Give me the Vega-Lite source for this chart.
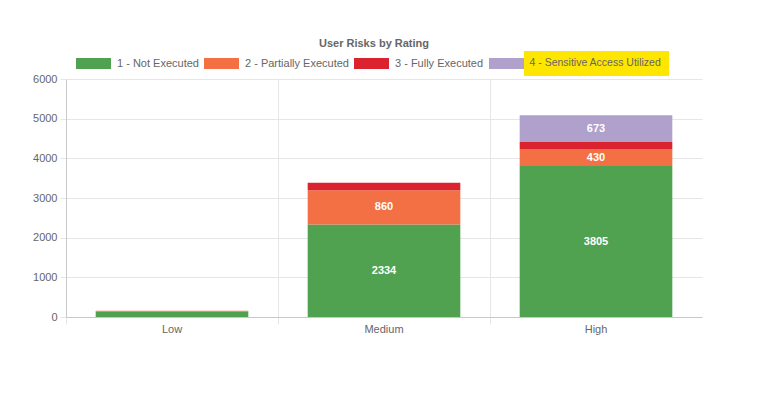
{
  "$schema": "https://vega.github.io/schema/vega-lite/v6.json",
  "autosize": {"type": "none"},
  "padding": {"left": 66, "top": 79, "right": 66, "bottom": 81},
  "width": 636,
  "height": 238,
  "background": "white",
  "title": {
    "text": "User Risks by Rating",
    "anchor": "middle",
    "font": "Liberation Sans",
    "fontSize": 11,
    "fontWeight": "bold",
    "color": "#666666",
    "dx": -10,
    "offset": -3
  },
  "data": {
    "values": [
      {"rating": "Low", "status": "1 - Not Executed", "value": 135},
      {"rating": "Low", "status": "2 - Partially Executed", "value": 25},
      {"rating": "Low", "status": "3 - Fully Executed", "value": 0},
      {"rating": "Low", "status": "4 - Sensitive Access Utilized", "value": 0},
      {"rating": "Medium", "status": "1 - Not Executed", "value": 2334},
      {"rating": "Medium", "status": "2 - Partially Executed", "value": 860},
      {"rating": "Medium", "status": "3 - Fully Executed", "value": 190},
      {"rating": "Medium", "status": "4 - Sensitive Access Utilized", "value": 0},
      {"rating": "High", "status": "1 - Not Executed", "value": 3805},
      {"rating": "High", "status": "2 - Partially Executed", "value": 430},
      {"rating": "High", "status": "3 - Fully Executed", "value": 178},
      {"rating": "High", "status": "4 - Sensitive Access Utilized", "value": 673}
    ]
  },
  "transform": [
    {"stack": "value", "groupby": ["rating"], "sort": [{"field": "status", "order": "ascending"}], "as": ["y0", "y1"]},
    {"calculate": "(datum.y0 + datum.y1) / 2", "as": "ymid"}
  ],
  "encoding": {
    "x": {
      "field": "rating",
      "type": "nominal",
      "sort": ["Low", "Medium", "High"],
      "scale": {"paddingInner": 0, "paddingOuter": 0},
      "axis": {
        "title": null,
        "labelAngle": 0,
        "labelFont": "Liberation Sans",
        "labelFontSize": 11,
        "labelColor": "#666666",
        "labelPadding": -1,
        "domainColor": "#c8c8c8",
        "grid": true,
        "gridColor": "#e6e6e6",
        "tickColor": "#e6e6e6",
        "tickSize": 7,
        "bandPosition": 0
      }
    }
  },
  "layer": [
    {
      "mark": {"type": "bar", "width": {"band": 0.72}},
      "encoding": {
        "y": {
          "field": "y1",
          "type": "quantitative",
          "scale": {"domain": [0, 6000], "nice": false},
          "axis": {
            "title": null,
            "values": [0, 1000, 2000, 3000, 4000, 5000, 6000],
            "format": "d",
            "labelOverlap": false,
            "labelFont": "Liberation Sans",
            "labelFontSize": 11,
            "labelColor": "#666666",
            "labelPadding": 3,
            "domainColor": "#c8c8c8",
            "gridColor": "#e6e6e6",
            "tickColor": "#e6e6e6",
            "tickSize": 6
          }
        },
        "y2": {"field": "y0"},
        "color": {
          "field": "status",
          "type": "nominal",
          "scale": {
            "domain": ["1 - Not Executed", "2 - Partially Executed", "3 - Fully Executed", "4 - Sensitive Access Utilized"],
            "range": ["#50A150", "#F27043", "#DB2330", "#B0A0CC"]
          },
          "legend": {
            "title": null,
            "orient": "none",
            "legendX": 10,
            "legendY": -33,
            "direction": "horizontal",
            "columns": 4,
            "symbolType": "M-1,-0.31H1V0.31H-1Z",
            "symbolSize": 1225,
            "symbolStrokeWidth": 0,
            "symbolOpacity": 1,
            "labelFont": "Liberation Sans",
            "labelFontSize": 11,
            "labelColor": "#666666",
            "labelOffset": 6,
            "labelLimit": 300,
            "columnPadding": 5,
            "labelExpr": "datum.label == '4 - Sensitive Access Utilized' ? '' : datum.label"
          }
        },
        "opacity": {
          "datum": "4 - Sensitive Access Utilized",
          "type": "nominal",
          "scale": {"range": [1]},
          "legend": {
            "title": null,
            "orient": "none",
            "legendX": 458,
            "legendY": -28,
            "fillColor": "#FFE600",
            "padding": 7,
            "symbolSize": 0,
            "symbolOpacity": 0,
            "symbolStrokeWidth": 0,
            "labelOffset": -12,
            "labelFont": "Liberation Sans",
            "labelFontSize": 10.5,
            "labelColor": "#666666",
            "labelLimit": 300
          }
        }
      }
    },
    {
      "transform": [{"filter": "datum.value > 300"}],
      "mark": {"type": "text", "color": "white", "font": "Liberation Sans", "fontSize": 11, "fontWeight": "bold", "baseline": "middle"},
      "encoding": {
        "y": {
          "field": "ymid",
          "type": "quantitative",
          "axis": {
            "title": null,
            "values": [0, 1000, 2000, 3000, 4000, 5000, 6000],
            "format": "d",
            "labelOverlap": false,
            "labelFont": "Liberation Sans",
            "labelFontSize": 11,
            "labelColor": "#666666",
            "labelPadding": 3,
            "domainColor": "#c8c8c8",
            "gridColor": "#e6e6e6",
            "tickColor": "#e6e6e6",
            "tickSize": 6
          }
        },
        "text": {"field": "value", "type": "quantitative"}
      }
    }
  ],
  "config": {"view": {"stroke": null}}
}
